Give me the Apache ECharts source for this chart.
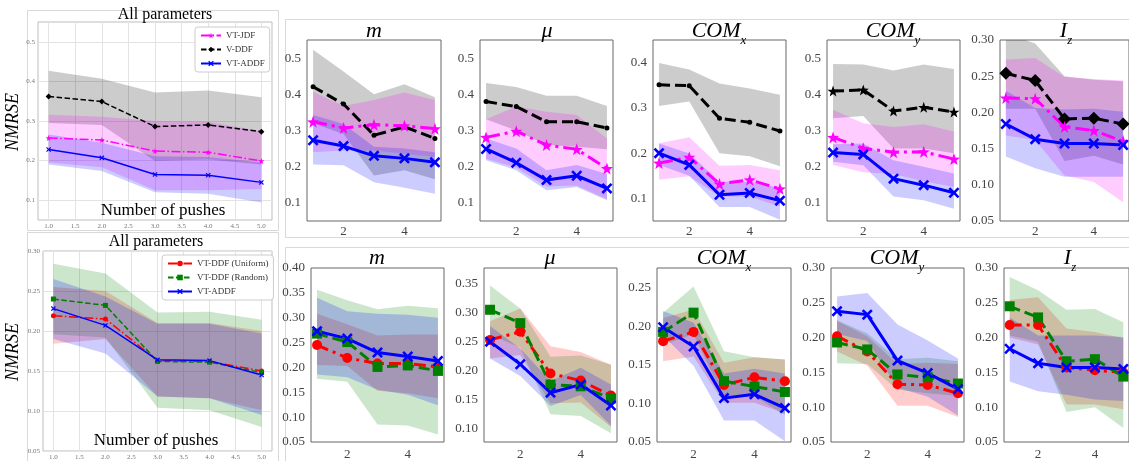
<!DOCTYPE html>
<html><head><meta charset="utf-8">
<script src="https://cdn.jsdelivr.net/npm/echarts@6/dist/echarts.min.js"></script>
<style>html,body{margin:0;padding:0;background:#fff}#c{width:1129px;height:461px}</style>
</head><body><div id="c"></div>
<script>
// ---------------- DATA ----------------
const X = [1, 2, 3, 4, 5];

// Top-left: All parameters
const ta_jdf = [0.257,0.252,0.224,0.221,0.199], ta_jdf_lo = [0.195,0.183,0.125,0.125,0.128], ta_jdf_hi = [0.316,0.311,0.300,0.298,0.274];
const ta_ddf = [0.362,0.349,0.286,0.290,0.273], ta_ddf_lo = [0.295,0.290,0.199,0.203,0.190], ta_ddf_hi = [0.427,0.407,0.372,0.377,0.360];
const ta_addf = [0.228,0.207,0.165,0.163,0.145], ta_addf_lo = [0.190,0.174,0.120,0.116,0.094], ta_addf_hi = [0.266,0.245,0.211,0.209,0.195];

// Bottom-left: All parameters
const ba_uni = [0.219,0.215,0.163,0.162,0.150], ba_uni_lo = [0.184,0.190,0.118,0.116,0.101], ba_uni_hi = [0.255,0.250,0.210,0.210,0.200];
const ba_rnd = [0.240,0.232,0.162,0.161,0.148], ba_rnd_lo = [0.196,0.192,0.104,0.101,0.080], ba_rnd_hi = [0.284,0.272,0.223,0.224,0.214];
const ba_addf = [0.228,0.207,0.164,0.163,0.145], ba_addf_lo = [0.190,0.172,0.118,0.116,0.095], ba_addf_hi = [0.265,0.243,0.209,0.209,0.197];

// Top row: m
const tm_ddf = [0.421,0.373,0.287,0.310,0.278], tm_ddf_lo = [0.320,0.290,0.176,0.190,0.165], tm_ddf_hi = [0.523,0.463,0.400,0.428,0.392];
const tm_jdf = [0.324,0.307,0.316,0.313,0.305], tm_jdf_lo = [0.240,0.245,0.245,0.236,0.227], tm_jdf_hi = [0.407,0.368,0.384,0.405,0.384];
const tm_addf = [0.273,0.257,0.230,0.223,0.212], tm_addf_lo = [0.206,0.204,0.157,0.142,0.125], tm_addf_hi = [0.343,0.318,0.255,0.250,0.240];
// Top row: mu
const tu_ddf = [0.380,0.366,0.324,0.324,0.307], tu_ddf_lo = [0.331,0.300,0.260,0.255,0.248], tu_ddf_hi = [0.431,0.420,0.396,0.396,0.368];
const tu_jdf = [0.281,0.298,0.260,0.248,0.195], tu_jdf_lo = [0.222,0.198,0.145,0.148,0.110], tu_jdf_hi = [0.331,0.366,0.352,0.343,0.278];
const tu_addf = [0.249,0.211,0.163,0.175,0.140], tu_addf_lo = [0.218,0.190,0.135,0.144,0.107], tu_addf_hi = [0.278,0.250,0.190,0.205,0.180];
// Top row: COM_x
const tx_ddf = [0.351,0.349,0.277,0.268,0.249], tx_ddf_lo = [0.304,0.314,0.200,0.193,0.171], tx_ddf_hi = [0.399,0.385,0.354,0.343,0.329];
const tx_jdf = [0.178,0.191,0.132,0.141,0.121], tx_jdf_lo = [0.141,0.149,0.104,0.104,0.082], tx_jdf_hi = [0.222,0.235,0.172,0.174,0.162];
const tx_addf = [0.200,0.174,0.108,0.112,0.095], tx_addf_lo = [0.174,0.150,0.081,0.081,0.053], tx_addf_hi = [0.221,0.199,0.137,0.137,0.123];
// Top row: COM_y
const ty_ddf = [0.409,0.412,0.354,0.364,0.351], ty_ddf_lo = [0.334,0.340,0.250,0.250,0.237], ty_ddf_hi = [0.484,0.482,0.466,0.482,0.470];
const ty_jdf = [0.281,0.251,0.240,0.241,0.221], ty_jdf_lo = [0.205,0.185,0.180,0.160,0.144], ty_jdf_hi = [0.357,0.320,0.310,0.317,0.297];
const ty_addf = [0.239,0.234,0.167,0.149,0.128], ty_addf_lo = [0.214,0.204,0.118,0.107,0.084], ty_addf_hi = [0.262,0.264,0.218,0.200,0.181];
// Top row: I_z
const tz_ddf = [0.254,0.244,0.191,0.192,0.184], tz_ddf_lo = [0.205,0.205,0.133,0.140,0.128], tz_ddf_hi = [0.310,0.295,0.250,0.245,0.243];
const tz_jdf = [0.220,0.219,0.180,0.175,0.160], tz_jdf_lo = [0.168,0.162,0.113,0.104,0.076], tz_jdf_hi = [0.273,0.275,0.249,0.246,0.244];
const tz_addf = [0.184,0.163,0.157,0.157,0.155], tz_addf_lo = [0.139,0.123,0.111,0.111,0.111], tz_addf_hi = [0.230,0.206,0.204,0.205,0.201];

// Bottom row: m
const bm_uni = [0.245,0.219,0.208,0.208,0.201], bm_uni_lo = [0.205,0.203,0.153,0.148,0.138], bm_uni_hi = [0.308,0.287,0.264,0.266,0.266];
const bm_rnd = [0.268,0.251,0.201,0.204,0.193], bm_rnd_lo = [0.177,0.171,0.085,0.083,0.065], bm_rnd_hi = [0.356,0.335,0.317,0.324,0.319];
const bm_addf = [0.273,0.258,0.230,0.222,0.213], bm_addf_lo = [0.186,0.180,0.155,0.145,0.124], bm_addf_hi = [0.340,0.313,0.308,0.306,0.300];
// Bottom row: mu
const bu_uni = [0.253,0.267,0.195,0.183,0.157], bu_uni_lo = [0.221,0.227,0.144,0.145,0.103], bu_uni_hi = [0.285,0.307,0.242,0.232,0.210];
const bu_rnd = [0.305,0.282,0.176,0.173,0.152], bu_rnd_lo = [0.262,0.240,0.125,0.122,0.092], bu_rnd_hi = [0.347,0.307,0.224,0.226,0.210];
const bu_addf = [0.250,0.211,0.162,0.176,0.140], bu_addf_lo = [0.221,0.191,0.139,0.158,0.105], bu_addf_hi = [0.277,0.238,0.182,0.205,0.176];
// Bottom row: COM_x
const bx_uni = [0.181,0.193,0.124,0.134,0.129], bx_uni_lo = [0.155,0.161,0.101,0.101,0.087], bx_uni_hi = [0.211,0.222,0.153,0.160,0.157];
const bx_rnd = [0.193,0.218,0.129,0.122,0.115], bx_rnd_lo = [0.176,0.190,0.107,0.109,0.085], bx_rnd_hi = [0.218,0.252,0.168,0.160,0.157];
const bx_addf = [0.199,0.174,0.107,0.112,0.094], bx_addf_lo = [0.188,0.149,0.078,0.078,0.051], bx_addf_hi = [0.220,0.205,0.139,0.145,0.139];
// Bottom row: COM_y
const by_uni = [0.202,0.180,0.133,0.132,0.120], by_uni_lo = [0.180,0.160,0.102,0.102,0.086], by_uni_hi = [0.224,0.202,0.162,0.164,0.162];
const by_rnd = [0.193,0.183,0.147,0.143,0.134], by_rnd_lo = [0.163,0.162,0.125,0.120,0.116], by_rnd_hi = [0.225,0.206,0.169,0.171,0.166];
const by_addf = [0.238,0.233,0.167,0.149,0.126], by_addf_lo = [0.205,0.195,0.128,0.115,0.088], by_addf_hi = [0.259,0.264,0.219,0.196,0.170];
// Bottom row: I_z
const bz_uni = [0.218,0.218,0.157,0.153,0.150], bz_uni_lo = [0.200,0.190,0.104,0.104,0.097], bz_uni_hi = [0.254,0.258,0.213,0.208,0.199];
const bz_rnd = [0.245,0.229,0.166,0.169,0.144], bz_rnd_lo = [0.203,0.194,0.093,0.100,0.070], bz_rnd_hi = [0.287,0.268,0.240,0.241,0.222];
const bz_addf = [0.184,0.163,0.157,0.157,0.155], bz_addf_lo = [0.137,0.123,0.118,0.111,0.109], bz_addf_hi = [0.229,0.203,0.203,0.203,0.201];

// Tick labels
const xTicksLeft = [1.0,1.5,2.0,2.5,3.0,3.5,4.0,4.5,5.0];
const xTicksRight = [2, 4];
const yTicks_1_5 = [0.1,0.2,0.3,0.4,0.5];
const yTicks_1_4 = [0.1,0.2,0.3,0.4];
const yTicks_05_30 = [0.05,0.10,0.15,0.20,0.25,0.30];
const yTicks_05_40 = [0.05,0.10,0.15,0.20,0.25,0.30,0.35,0.40];
const yTicks_10_35 = [0.10,0.15,0.20,0.25,0.30,0.35];
const yTicks_05_25 = [0.05,0.10,0.15,0.20,0.25];

// ---------------- LAYOUT ----------------
const SERIF = '"Liberation Serif", "DejaVu Serif", serif';
const panels = [
  {l:38,  t:22,  w:234, h:198, ymin:0.05, ymax:0.55,  yt:yTicks_1_5,   yd:1, left:true},
  {l:43,  t:251, w:229, h:201, ymin:0.05, ymax:0.30,  yt:yTicks_05_30, yd:2, left:true},
  {l:307, t:40,  w:134, h:181, ymin:0.05, ymax:0.55,  yt:yTicks_1_5,   yd:1},
  {l:480, t:40,  w:133, h:181, ymin:0.05, ymax:0.55,  yt:yTicks_1_5,   yd:1},
  {l:653, t:40,  w:133, h:181, ymin:0.05, ymax:0.45,  yt:yTicks_1_4,   yd:1},
  {l:827, t:40,  w:133, h:181, ymin:0.05, ymax:0.55,  yt:yTicks_1_5,   yd:1},
  {l:1000,t:40,  w:132, h:181, ymin:0.05, ymax:0.30,  yt:yTicks_05_30, yd:2},
  {l:311, t:268, w:133, h:181, ymin:0.05, ymax:0.40,  yt:yTicks_05_40, yd:2, bot:true},
  {l:484, t:268, w:133, h:181, ymin:0.077,ymax:0.377, yt:yTicks_10_35, yd:2, bot:true},
  {l:657, t:268, w:134, h:181, ymin:0.05, ymax:0.276, yt:yTicks_05_25, yd:2, bot:true},
  {l:831, t:268, w:133, h:181, ymin:0.05, ymax:0.30,  yt:yTicks_05_30, yd:2, bot:true},
  {l:1004,t:268, w:133, h:181, ymin:0.05, ymax:0.30,  yt:yTicks_05_30, yd:2, bot:true}
];

const grid = panels.map(p => ({left:p.l, top:p.t, width:p.w, height:p.h, show:true,
  borderColor: p.left ? '#bdbdbd' : '#666', borderWidth:1, backgroundColor:'transparent', containLabel:false}));
const xAxis = panels.map((p,i) => ({type:'value', gridIndex:i, min:0.8, max:5.2,
  axisLine:{show:false}, axisTick:{show:false, customValues: p.left ? xTicksLeft : xTicksRight},
  axisLabel:{customValues: p.left ? xTicksLeft : xTicksRight,
    formatter: v => p.left ? Number(v).toFixed(1) : String(Math.round(v)),
    fontFamily:SERIF, fontSize: p.left ? 7 : 13, color: p.left ? '#777' : '#444', margin: p.left ? 3 : (p.bot ? 6 : 4)},
  splitLine:{show: !!p.left, lineStyle:{color:'#e3e3e3', width:1}}}));
const yAxis = panels.map((p,i) => ({type:'value', gridIndex:i, min:p.ymin, max:p.ymax,
  axisLine:{show:false}, axisTick:{show:false, customValues:p.yt},
  axisLabel:{customValues:p.yt, formatter: v => Number(v).toFixed(p.yd),
    fontFamily:SERIF, fontSize: p.left ? 7 : 13, color: p.left ? '#777' : '#444', margin: p.left ? 3 : 6},
  splitLine:{show: !!p.left, lineStyle:{color:'#e3e3e3', width:1}}}));

// ---------------- SERIES HELPERS ----------------
const STAR = 'path://M0,-10L2.35,-3.24L9.51,-3.09L3.8,1.24L5.88,8.09L0,4L-5.88,8.09L-3.8,1.24L-9.51,-3.09L-2.35,-3.24Z';
const XMARK = 'path://M-4,-6L0,-2L4,-6L6,-4L2,0L6,4L4,6L0,2L-4,6L-6,4L-2,0L-6,-4Z';
function band(g, lo, hi, col) {
  return {type:'custom', xAxisIndex:g, yAxisIndex:g, silent:true, z:1, animation:false,
    data:[[X[0], lo[0]]],
    renderItem: function (params, api) {
      const pts = [];
      for (let i = 0; i < X.length; i++) pts.push(api.coord([X[i], hi[i]]));
      for (let i = X.length - 1; i >= 0; i--) pts.push(api.coord([X[i], lo[i]]));
      const cs = params.coordSys;
      return {type:'polygon', shape:{points:pts}, style:{fill:col, opacity:0.2, stroke:null},
        clipPath:{type:'rect', shape:{x:cs.x, y:cs.y, width:cs.width, height:cs.height}}};
    }};
}
function ln(g, name, vals, color, type, width, symbol, size) {
  return {type:'line', name, xAxisIndex:g, yAxisIndex:g, data:X.map((x,i)=>[x, vals[i]]),
    lineStyle:{color, width, type, cap:'butt'}, itemStyle:{color, borderWidth:0},
    symbol, symbolSize:size, showSymbol:true, z:3, silent:true, animation:false};
}
const MAG='#ff00ff', BLK='#000000', BLU='#0000ff', RED='#ff0000', GRN='#008000';

const series = [];
// left panels first (so legends take their style)
series.push(ln(0,'VT-JDF', ta_jdf, MAG, [9,2.5,1.5,2.5], 1.5, STAR, 6),
            ln(0,'V-DDF', ta_ddf, BLK, [5.5,2.5], 1.5, 'diamond', 6),
            ln(0,'VT-ADDF', ta_addf, BLU, 'solid', 1.5, XMARK, 5));
series.push(band(0, ta_ddf_lo, ta_ddf_hi, BLK), band(0, ta_jdf_lo, ta_jdf_hi, MAG), band(0, ta_addf_lo, ta_addf_hi, BLU));
series.push(ln(1,'VT-DDF (Uniform)', ba_uni, RED, [9,2.5,1.5,2.5], 1.5, 'circle', 5),
            ln(1,'VT-DDF (Random)', ba_rnd, GRN, [5.5,2.5], 1.5, 'rect', 5),
            ln(1,'VT-ADDF', ba_addf, BLU, 'solid', 1.5, XMARK, 5));
series.push(band(1, ba_uni_lo, ba_uni_hi, RED), band(1, ba_rnd_lo, ba_rnd_hi, GRN), band(1, ba_addf_lo, ba_addf_hi, BLU));

// top row
const topSets = [
  [2, tm_ddf, tm_ddf_lo, tm_ddf_hi, tm_jdf, tm_jdf_lo, tm_jdf_hi, tm_addf, tm_addf_lo, tm_addf_hi, 'circle', 5],
  [3, tu_ddf, tu_ddf_lo, tu_ddf_hi, tu_jdf, tu_jdf_lo, tu_jdf_hi, tu_addf, tu_addf_lo, tu_addf_hi, 'circle', 5],
  [4, tx_ddf, tx_ddf_lo, tx_ddf_hi, tx_jdf, tx_jdf_lo, tx_jdf_hi, tx_addf, tx_addf_lo, tx_addf_hi, 'circle', 5],
  [5, ty_ddf, ty_ddf_lo, ty_ddf_hi, ty_jdf, ty_jdf_lo, ty_jdf_hi, ty_addf, ty_addf_lo, ty_addf_hi, STAR, 11],
  [6, tz_ddf, tz_ddf_lo, tz_ddf_hi, tz_jdf, tz_jdf_lo, tz_jdf_hi, tz_addf, tz_addf_lo, tz_addf_hi, 'diamond', 13]
];
topSets.forEach(s => {
  const g = s[0];
  series.push(band(g, s[2], s[3], BLK), band(g, s[5], s[6], MAG), band(g, s[8], s[9], BLU));
  series.push(ln(g,'V-DDF', s[1], BLK, [11,5], 3, s[10], s[11]),
              ln(g,'VT-JDF', s[4], MAG, [14,5,3,5], 3, STAR, 12),
              ln(g,'VT-ADDF', s[7], BLU, 'solid', 3, XMARK, 11));
});
// bottom row
const botSets = [
  [7, bm_uni, bm_uni_lo, bm_uni_hi, bm_rnd, bm_rnd_lo, bm_rnd_hi, bm_addf, bm_addf_lo, bm_addf_hi],
  [8, bu_uni, bu_uni_lo, bu_uni_hi, bu_rnd, bu_rnd_lo, bu_rnd_hi, bu_addf, bu_addf_lo, bu_addf_hi],
  [9, bx_uni, bx_uni_lo, bx_uni_hi, bx_rnd, bx_rnd_lo, bx_rnd_hi, bx_addf, bx_addf_lo, bx_addf_hi],
  [10, by_uni, by_uni_lo, by_uni_hi, by_rnd, by_rnd_lo, by_rnd_hi, by_addf, by_addf_lo, by_addf_hi],
  [11, bz_uni, bz_uni_lo, bz_uni_hi, bz_rnd, bz_rnd_lo, bz_rnd_hi, bz_addf, bz_addf_lo, bz_addf_hi]
];
botSets.forEach(s => {
  const g = s[0];
  series.push(band(g, s[2], s[3], RED), band(g, s[5], s[6], GRN), band(g, s[8], s[9], BLU));
  series.push(ln(g,'VT-DDF (Uniform)', s[1], RED, [12,5,3,5], 3, 'circle', 10),
              ln(g,'VT-DDF (Random)', s[4], GRN, [11,5], 3, 'rect', 10),
              ln(g,'VT-ADDF', s[7], BLU, 'solid', 3, XMARK, 11));
});

// ---------------- DECORATION ----------------
function txt(x, y, text, font, extra) {
  return Object.assign({type:'text', x, y, z:100, silent:true,
    style:{text, font, fill:'#000', align:'center', verticalAlign:'middle', textAlign:'center', textVerticalAlign:'middle'}}, extra || {});
}
function rtxt(x, y, main, sub) {
  return {type:'text', x, y, z:100, silent:true, style:{
    text:'{a|' + main + '}{b|' + sub + '}', align:'center', verticalAlign:'middle', textAlign:'center', textVerticalAlign:'middle',
    rich:{a:{font:'italic 22px ' + SERIF, fill:'#000', lineHeight:26, verticalAlign:'middle'},
          b:{font:'italic 13px ' + SERIF, fill:'#000', lineHeight:26, verticalAlign:'bottom', padding:[0,0,-3,0]}}}};
}
function frame(x, y, w, h) {
  return {type:'rect', z:-1, silent:true, shape:{x:x+0.5, y:y+0.5, width:w, height:h},
    style:{fill:'none', stroke:'#d9d9d9', lineWidth:1}};
}
const graphic = [
  frame(27, 10, 251, 220), frame(27, 232, 251, 240), frame(285, 19, 860, 218), frame(285, 247, 860, 230),
  txt(165, 15, 'All parameters', '16px ' + SERIF),
  txt(163, 211, 'Number of pushes', '17px ' + SERIF),
  txt(13, 122, 'NMRSE', 'italic 18px ' + SERIF, {rotation: Math.PI/2}),
  txt(156, 242, 'All parameters', '16px ' + SERIF),
  txt(156, 441, 'Number of pushes', '17px ' + SERIF),
  txt(13, 352, 'NMRSE', 'italic 18px ' + SERIF, {rotation: Math.PI/2}),
  txt(374, 31, 'm', 'italic 22px ' + SERIF),
  txt(547, 31, 'μ', 'italic 22px ' + SERIF),
  rtxt(719, 31, 'COM', 'x'),
  rtxt(893, 31, 'COM', 'y'),
  rtxt(1066, 31, 'I', 'z'),
  txt(377, 258, 'm', 'italic 22px ' + SERIF),
  txt(550, 258, 'μ', 'italic 22px ' + SERIF),
  rtxt(724, 258, 'COM', 'x'),
  rtxt(897, 258, 'COM', 'y'),
  rtxt(1070, 258, 'I', 'z')
];

const legend = [
  {data:['VT-JDF','V-DDF','VT-ADDF'], left:195, top:27, orient:'vertical', itemWidth:20, itemHeight:7, itemGap:5,
   textStyle:{fontFamily:SERIF, fontSize:9, color:'#333'}, backgroundColor:'#fff', borderColor:'#ccc', borderWidth:1,
   borderRadius:3, padding:[4,5], selectedMode:false, z:50},
  {data:['VT-DDF (Uniform)','VT-DDF (Random)','VT-ADDF'], left:162, top:255, orient:'vertical', itemWidth:24, itemHeight:7, itemGap:5,
   textStyle:{fontFamily:SERIF, fontSize:9, color:'#333'}, backgroundColor:'#fff', borderColor:'#ccc', borderWidth:1,
   borderRadius:3, padding:[4,5], selectedMode:false, z:50}
];

const chart = echarts.init(document.getElementById('c'), null, {renderer:'canvas'});
chart.setOption({animation:false, backgroundColor:'#fff', grid, xAxis, yAxis, series, legend, graphic});
</script></body></html>
